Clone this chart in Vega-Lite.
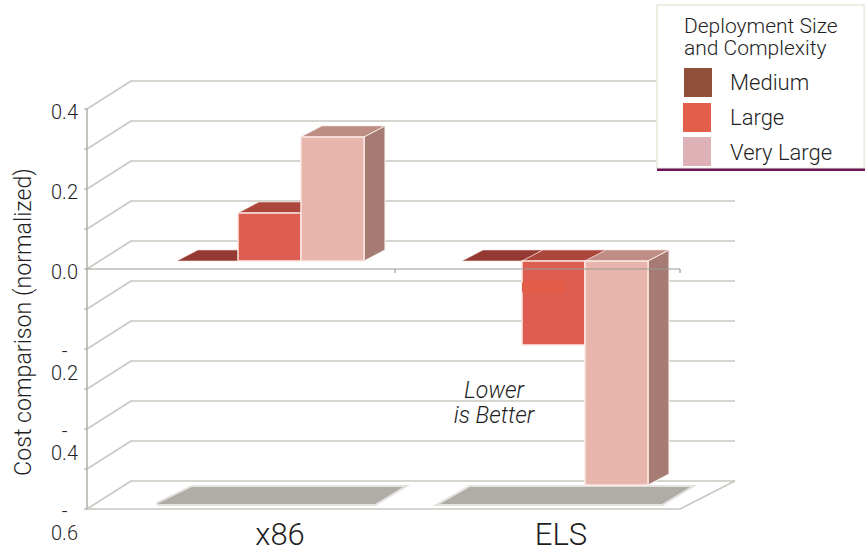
{
  "$schema": "https://vega.github.io/schema/vega-lite/v6.json",
  "width": 865,
  "height": 552,
  "padding": 0,
  "autosize": {"type": "none"},
  "background": "white",
  "config": {"view": {"stroke": null}, "text": {"font": "Roboto", "fontWeight": 300, "color": "#1f1f1f"}},
  "datasets": {
    "walls": [
      {"level": 0.4, "x": -1.397, "y": 0.4}, {"level": 0.4, "x": -0.698, "y": 0.47}, {"level": 0.4, "x": 8.889, "y": 0.47},
      {"level": 0.3, "x": -1.397, "y": 0.3}, {"level": 0.3, "x": -0.698, "y": 0.37}, {"level": 0.3, "x": 8.889, "y": 0.37},
      {"level": 0.2, "x": -1.397, "y": 0.2}, {"level": 0.2, "x": -0.698, "y": 0.27}, {"level": 0.2, "x": 8.889, "y": 0.27},
      {"level": 0.1, "x": -1.397, "y": 0.1}, {"level": 0.1, "x": -0.698, "y": 0.17}, {"level": 0.1, "x": 8.889, "y": 0.17},
      {"level": 0.0, "x": -1.397, "y": 0.0}, {"level": 0.0, "x": -0.698, "y": 0.07}, {"level": 0.0, "x": 8.889, "y": 0.07},
      {"level": -0.1, "x": -1.397, "y": -0.1}, {"level": -0.1, "x": -0.698, "y": -0.03}, {"level": -0.1, "x": 8.889, "y": -0.03},
      {"level": -0.2, "x": -1.397, "y": -0.2}, {"level": -0.2, "x": -0.698, "y": -0.13}, {"level": -0.2, "x": 8.889, "y": -0.13},
      {"level": -0.3, "x": -1.397, "y": -0.3}, {"level": -0.3, "x": -0.698, "y": -0.23}, {"level": -0.3, "x": 8.889, "y": -0.23},
      {"level": -0.4, "x": -1.397, "y": -0.4}, {"level": -0.4, "x": -0.698, "y": -0.33}, {"level": -0.4, "x": 8.889, "y": -0.33},
      {"level": -0.5, "x": -1.397, "y": -0.5}, {"level": -0.5, "x": -0.698, "y": -0.43}, {"level": -0.5, "x": 8.889, "y": -0.43},
      {"level": -0.6, "x": -1.397, "y": -0.6}, {"level": -0.6, "x": -0.698, "y": -0.53}, {"level": -0.6, "x": 8.889, "y": -0.53}
    ],
    "floorEdge": [
      {"x": -1.397, "y": -0.6}, {"x": 8.016, "y": -0.6}, {"x": 8.889, "y": -0.53}
    ],
    "axisLines": [
      {"x": -1.397, "x2": -1.397, "y": 0.4, "y2": -0.6},
      {"x": -1.437, "x2": -1.397, "y": 0.4, "y2": 0.4},
      {"x": -1.437, "x2": -1.397, "y": 0.3, "y2": 0.3},
      {"x": -1.437, "x2": -1.397, "y": 0.2, "y2": 0.2},
      {"x": -1.437, "x2": -1.397, "y": 0.1, "y2": 0.1},
      {"x": -1.437, "x2": -1.397, "y": 0.0, "y2": 0.0},
      {"x": -1.437, "x2": -1.397, "y": -0.1, "y2": -0.1},
      {"x": -1.437, "x2": -1.397, "y": -0.2, "y2": -0.2},
      {"x": -1.437, "x2": -1.397, "y": -0.3, "y2": -0.3},
      {"x": -1.437, "x2": -1.397, "y": -0.4, "y2": -0.4},
      {"x": -1.437, "x2": -1.397, "y": -0.5, "y2": -0.5},
      {"x": -1.437, "x2": -1.397, "y": -0.6, "y2": -0.6}
    ],
    "zeroLine": [
      {"x": -1.397, "x2": 8.016, "y": 0.0, "y2": 0.0},
      {"x": 3.492, "x2": 3.492, "y": 0.0, "y2": -0.01},
      {"x": 8.016, "x2": 8.016, "y": 0.0, "y2": -0.01}
    ],
    "shadows": [
      {"platform": "x86", "x": -0.286, "x2": 3.175, "y": -0.5875},
      {"platform": "x86", "x": 0.27, "x2": 3.619, "y": -0.545},
      {"platform": "ELS", "x": 4.206, "x2": 7.73, "y": -0.5875},
      {"platform": "ELS", "x": 4.683, "x2": 8.175, "y": -0.545}
    ],
    "bars": [
      {"platform": "x86", "size": "Medium", "x": 0.03, "x2": 1, "value": 0.0, "base": 0},
      {"platform": "x86", "size": "Large", "x": 1, "x2": 2, "value": 0.12, "base": 0},
      {"platform": "x86", "size": "Very Large", "x": 2, "x2": 3, "value": 0.31, "base": 0},
      {"platform": "ELS", "size": "Medium", "x": 4.556, "x2": 5.508, "value": 0.0, "base": 0},
      {"platform": "ELS", "size": "Large", "x": 5.508, "x2": 6.508, "value": -0.21, "base": 0},
      {"platform": "ELS", "size": "Very Large", "x": 6.508, "x2": 7.508, "value": -0.56, "base": 0}
    ],
    "topFaces": [
      {"bar": "x86 Medium", "size": "Medium", "x": 0.03, "x2": 1, "y": 0.0},
      {"bar": "x86 Medium", "size": "Medium", "x": 0.363, "x2": 1.333, "y": 0.0275},
      {"bar": "x86 Large", "size": "Large", "x": 1, "x2": 2, "y": 0.12},
      {"bar": "x86 Large", "size": "Large", "x": 1.333, "x2": 2.333, "y": 0.1475},
      {"bar": "x86 Very Large", "size": "Very Large", "x": 2, "x2": 3, "y": 0.31},
      {"bar": "x86 Very Large", "size": "Very Large", "x": 2.333, "x2": 3.333, "y": 0.3375},
      {"bar": "ELS Medium", "size": "Medium", "x": 4.556, "x2": 5.508, "y": 0.0},
      {"bar": "ELS Medium", "size": "Medium", "x": 4.889, "x2": 5.841, "y": 0.0275},
      {"bar": "ELS Large", "size": "Large", "x": 5.508, "x2": 6.508, "y": 0.0},
      {"bar": "ELS Large", "size": "Large", "x": 5.841, "x2": 6.841, "y": 0.0275},
      {"bar": "ELS Very Large", "size": "Very Large", "x": 6.508, "x2": 7.508, "y": 0.0},
      {"bar": "ELS Very Large", "size": "Very Large", "x": 6.841, "x2": 7.841, "y": 0.0275}
    ],
    "sideFaces": [
      {"bar": "x86 Very Large", "x": 3, "y": 0.31, "y2": 0.0},
      {"bar": "x86 Very Large", "x": 3.333, "y": 0.3375, "y2": 0.0275},
      {"bar": "ELS Very Large", "x": 7.508, "y": 0.0, "y2": -0.56},
      {"bar": "ELS Very Large", "x": 7.841, "y": 0.0275, "y2": -0.5325}
    ],
    "legendKeys": [
      {"size": "Medium", "x": 8.079, "x2": 8.524, "y": 0.5025, "y2": 0.43, "labelX": 8.81, "labelY": 0.465},
      {"size": "Large", "x": 8.063, "x2": 8.508, "y": 0.415, "y2": 0.3425, "labelX": 8.81, "labelY": 0.3775},
      {"size": "Very Large", "x": 8.063, "x2": 8.508, "y": 0.33, "y2": 0.2575, "labelX": 8.81, "labelY": 0.29}
    ]
  },
  "encoding": {
    "x": {"type": "quantitative", "scale": {"domain": [-2.7778, 10.9524], "nice": false, "zero": false}, "axis": null},
    "y": {"type": "quantitative", "scale": {"domain": [-0.7075, 0.6725], "nice": false, "zero": false}, "axis": null}
  },
  "layer": [
    {
      "data": {"name": "walls"},
      "mark": {"type": "line", "color": "#c9c7c1", "strokeWidth": 1.6},
      "encoding": {
        "x": {"field": "x", "type": "quantitative"},
        "y": {"field": "y", "type": "quantitative"},
        "detail": {"field": "level"},
        "order": {"field": "x"}
      }
    },
    {
      "data": {"name": "floorEdge"},
      "mark": {"type": "line", "color": "#c9c7c1", "strokeWidth": 1.6},
      "encoding": {
        "x": {"field": "x", "type": "quantitative"},
        "y": {"field": "y", "type": "quantitative"},
        "order": {"field": "x"}
      }
    },
    {
      "data": {"name": "axisLines"},
      "mark": {"type": "rule", "color": "#b5b3ad", "strokeWidth": 1.6},
      "encoding": {
        "x": {"field": "x", "type": "quantitative"},
        "x2": {"field": "x2"},
        "y": {"field": "y", "type": "quantitative"},
        "y2": {"field": "y2"}
      }
    },
    {
      "data": {"name": "shadows"},
      "mark": {"type": "area", "orient": "horizontal", "color": "#b0ada6", "stroke": "#b0ada6", "strokeOpacity": 0.35, "strokeWidth": 4},
      "encoding": {
        "x": {"field": "x", "type": "quantitative"},
        "x2": {"field": "x2"},
        "y": {"field": "y", "type": "quantitative"},
        "detail": {"field": "platform"}
      }
    },
    {
      "data": {"name": "topFaces"},
      "mark": {"type": "area", "orient": "horizontal", "yOffset": -8, "stroke": "#f3dcd6", "strokeWidth": 0.6},
      "encoding": {
        "x": {"field": "x", "type": "quantitative"},
        "x2": {"field": "x2"},
        "y": {"field": "y", "type": "quantitative"},
        "detail": {"field": "bar"},
        "color": {"field": "size", "type": "nominal", "scale": {"domain": ["Medium", "Large", "Very Large"], "range": ["#943a33", "#ad463d", "#be8d84"]}, "legend": null}
      }
    },
    {
      "data": {"name": "sideFaces"},
      "mark": {"type": "area", "yOffset": -8, "y2Offset": -8, "color": "#a57b73", "stroke": "#fbf0ec", "strokeWidth": 1},
      "encoding": {
        "x": {"field": "x", "type": "quantitative"},
        "y": {"field": "y", "type": "quantitative"},
        "y2": {"field": "y2"},
        "detail": {"field": "bar"}
      }
    },
    {
      "data": {"name": "bars"},
      "transform": [{"filter": "datum.size !== 'Medium'"}],
      "mark": {"type": "rect", "yOffset": -8, "y2Offset": -8, "stroke": "#fbe9e4", "strokeWidth": 1.5},
      "encoding": {
        "x": {"field": "x", "type": "quantitative"},
        "x2": {"field": "x2"},
        "y": {"field": "value", "type": "quantitative"},
        "y2": {"field": "base"},
        "color": {"field": "size", "type": "nominal", "scale": {"domain": ["Medium", "Large", "Very Large"], "range": ["#943a33", "#dd5e50", "#e8b5ac"]}, "legend": null}
      }
    },
    {
      "data": {"values": [{"x": 5.508, "x2": 6.206, "y": -0.03, "y2": -0.0625}]},
      "mark": {"type": "rect", "color": "#e25c48", "cornerRadius": 3},
      "encoding": {
        "x": {"field": "x", "type": "quantitative"},
        "x2": {"field": "x2"},
        "y": {"field": "y", "type": "quantitative"},
        "y2": {"field": "y2"}
      }
    },
    {
      "data": {"name": "zeroLine"},
      "mark": {"type": "rule", "color": "#9c9a96", "strokeWidth": 1.2},
      "encoding": {
        "x": {"field": "x", "type": "quantitative"},
        "x2": {"field": "x2"},
        "y": {"field": "y", "type": "quantitative"},
        "y2": {"field": "y2"}
      }
    },
    {
      "data": {"values": [{"label": "0.4", "x": -1.754, "y": 0.4}, {"label": "0.2", "x": -1.754, "y": 0.2}, {"label": "0.0", "x": -1.754, "y": 0.0}]},
      "mark": {"type": "text", "fontSize": 20, "dy": 4},
      "encoding": {
        "x": {"field": "x", "type": "quantitative"},
        "y": {"field": "y", "type": "quantitative"},
        "text": {"field": "label"}
      }
    },
    {
      "data": {"values": [{"label": "0.2", "x": -1.754, "y": -0.2}, {"label": "0.4", "x": -1.754, "y": -0.4}, {"label": "0.6", "x": -1.754, "y": -0.6}]},
      "layer": [
        {
          "mark": {"type": "text", "fontSize": 20, "dy": 25},
          "encoding": {
            "x": {"field": "x", "type": "quantitative"},
            "y": {"field": "y", "type": "quantitative"},
            "text": {"field": "label"}
          }
        },
        {
          "mark": {"type": "text", "fontSize": 20, "dy": 3, "text": "-"},
          "encoding": {
            "x": {"field": "x", "type": "quantitative"},
            "y": {"field": "y", "type": "quantitative"}
          }
        }
      ]
    },
    {
      "data": {"values": [{"label": "Cost comparison (normalized)", "x": -2.397, "y": -0.1325}]},
      "mark": {"type": "text", "fontSize": 23.2, "angle": 270},
      "encoding": {
        "x": {"field": "x", "type": "quantitative"},
        "y": {"field": "y", "type": "quantitative"},
        "text": {"field": "label"}
      }
    },
    {
      "data": {"values": [{"label": "x86", "x": 1.667, "y": -0.6675}, {"label": "ELS", "x": 6.127, "y": -0.6675}]},
      "mark": {"type": "text", "fontSize": 31},
      "encoding": {
        "x": {"field": "x", "type": "quantitative"},
        "y": {"field": "y", "type": "quantitative"},
        "text": {"field": "label"}
      }
    },
    {
      "data": {"values": [{"label": "Lower", "x": 5.063, "y": -0.305}, {"label": "is Better", "x": 5.063, "y": -0.3675}]},
      "mark": {"type": "text", "fontSize": 23, "fontStyle": "italic"},
      "encoding": {
        "x": {"field": "x", "type": "quantitative"},
        "y": {"field": "y", "type": "quantitative"},
        "text": {"field": "label"}
      }
    },
    {
      "data": {"values": [{"x": 7.651, "x2": 10.94, "y": 0.66, "y2": 0.2513}]},
      "mark": {"type": "rect", "fill": "white", "stroke": "#eeebe0", "strokeWidth": 2},
      "encoding": {
        "x": {"field": "x", "type": "quantitative"},
        "x2": {"field": "x2"},
        "y": {"field": "y", "type": "quantitative"},
        "y2": {"field": "y2"}
      }
    },
    {
      "data": {"values": [{"x": 7.651, "x2": 10.9524, "y": 0.2513, "y2": 0.245}]},
      "mark": {"type": "rect", "color": "#6b1458"},
      "encoding": {
        "x": {"field": "x", "type": "quantitative"},
        "x2": {"field": "x2"},
        "y": {"field": "y", "type": "quantitative"},
        "y2": {"field": "y2"}
      }
    },
    {
      "data": {"name": "legendKeys"},
      "mark": {"type": "rect"},
      "encoding": {
        "x": {"field": "x", "type": "quantitative"},
        "x2": {"field": "x2"},
        "y": {"field": "y", "type": "quantitative"},
        "y2": {"field": "y2"},
        "color": {"field": "size", "type": "nominal", "scale": {"domain": ["Medium", "Large", "Very Large"], "range": ["#91503a", "#e35f4c", "#deb1b6"]}, "legend": null}
      }
    },
    {
      "data": {"name": "legendKeys"},
      "mark": {"type": "text", "align": "left", "fontSize": 22},
      "encoding": {
        "x": {"field": "labelX", "type": "quantitative"},
        "y": {"field": "labelY", "type": "quantitative"},
        "text": {"field": "size"}
      }
    },
    {
      "data": {"values": [{"label": "Deployment Size", "x": 8.079, "y": 0.605}, {"label": "and Complexity", "x": 8.079, "y": 0.55}]},
      "mark": {"type": "text", "align": "left", "fontSize": 21},
      "encoding": {
        "x": {"field": "x", "type": "quantitative"},
        "y": {"field": "y", "type": "quantitative"},
        "text": {"field": "label"}
      }
    }
  ],
  "resolve": {"scale": {"color": "independent"}}
}
